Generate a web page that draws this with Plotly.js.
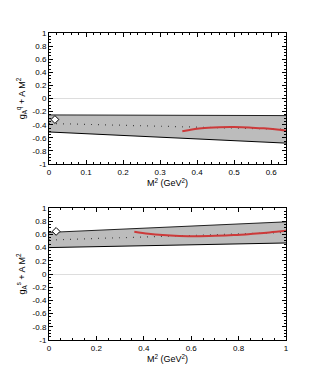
<!DOCTYPE html>
<html><head><meta charset="utf-8">
<script src="https://cdn.plot.ly/plotly-3.0.1.min.js"></script>
<style>html,body{margin:0;padding:0;background:#fff}#c{width:313px;height:382px}</style>
</head><body><div id="c"></div>
<script>
// Top panel data
const topBandX = [0, 0.64];
const topUpper = [-0.25, -0.26];
const topLower = [-0.51, -0.68];
const topCentral = [-0.38, -0.47];
const topFitX = [0.36, 0.38, 0.40, 0.43, 0.46, 0.50, 0.54, 0.58, 0.61, 0.64];
const topFitY = [-0.50, -0.48, -0.46, -0.445, -0.437, -0.435, -0.44, -0.455, -0.47, -0.49];
const topPointX = [0.016];
const topPointY = [-0.32];

// Bottom panel data
const botBandX = [0, 1];
const botUpper = [0.63, 0.79];
const botLower = [0.40, 0.47];
const botCentral = [0.515, 0.63];
const botFitX = [0.36, 0.42, 0.48, 0.55, 0.62, 0.70, 0.78, 0.86, 0.93, 1.0];
const botFitY = [0.64, 0.61, 0.59, 0.577, 0.572, 0.578, 0.59, 0.61, 0.63, 0.655];
const botPointX = [0.03];
const botPointY = [0.645];

const yTicks = [-1,-0.8,-0.6,-0.4,-0.2,0,0.2,0.4,0.6,0.8,1];
const yTickText = ['-1','-0.8','-0.6','-0.4','-0.2','0','0.2','0.4','0.6','0.8','1'];

const fillCol = '#bcbcbc';
const redCol = '#cc3a3a';

function panel(xa, ya, bx, up, lo, ce, fx, fy, px, py) {
  return [
    {x: bx, y: lo, xaxis: xa, yaxis: ya, mode: 'lines', line: {color: '#000', width: 1}, hoverinfo: 'skip'},
    {x: bx, y: up, xaxis: xa, yaxis: ya, mode: 'lines', fill: 'tonexty', fillcolor: fillCol, line: {color: '#222', width: 1}, hoverinfo: 'skip'},
    {x: bx, y: ce, xaxis: xa, yaxis: ya, mode: 'lines', line: {color: '#444', width: 1.2, dash: '1px,6px'}},
    {x: fx, y: fy, xaxis: xa, yaxis: ya, mode: 'lines', line: {color: redCol, width: 2, shape: 'spline'}},
    {x: px, y: py, xaxis: xa, yaxis: ya, mode: 'markers', marker: {symbol: 'diamond', size: 6, color: '#fff', line: {color: '#000', width: 1}}}
  ];
}

const data = [].concat(
  panel('x', 'y', topBandX, topUpper, topLower, topCentral, topFitX, topFitY, topPointX, topPointY),
  panel('x2', 'y2', botBandX, botUpper, botLower, botCentral, botFitX, botFitY, botPointX, botPointY)
);

const font = {family: 'Liberation Sans, Arial, sans-serif', size: 8, color: '#000'};
const titleFont = {family: 'Liberation Sans, Arial, sans-serif', size: 9, color: '#000'};
const axBase = {
  showline: true, linecolor: '#000', linewidth: 1, mirror: 'allticks',
  ticks: 'inside', ticklen: 4, tickwidth: 1, tickcolor: '#000',
  showgrid: false, zeroline: false, tickfont: font
};

const layout = {
  width: 313, height: 382,
  margin: {l: 49, r: 27, t: 33, b: 42},
  paper_bgcolor: '#fff', plot_bgcolor: '#fff',
  showlegend: false, font: font,
  xaxis: Object.assign({}, axBase, {
    domain: [0, 1], anchor: 'y', range: [0, 0.64], dtick: 0.1, tick0: 0,
    minor: {dtick: 0.02, ticks: 'inside', ticklen: 2, tickcolor: '#000'},
    title: {text: 'M<sup>2</sup> (GeV<sup>2</sup>)', font: titleFont, standoff: 2}
  }),
  yaxis: Object.assign({}, axBase, {
    domain: [0.573, 1], anchor: 'x', range: [-1, 1],
    tickvals: yTicks, ticktext: yTickText,
    minor: {dtick: 0.05, ticks: 'inside', ticklen: 2, tickcolor: '#000'},
    zeroline: true, zerolinecolor: '#dddddd', zerolinewidth: 1,
    title: {text: 'g<sub>A</sub><sup>q</sup> + A M<sup>2</sup>', font: titleFont, standoff: 5}
  }),
  xaxis2: Object.assign({}, axBase, {
    domain: [0, 1], anchor: 'y2', range: [0, 1], dtick: 0.2, tick0: 0,
    minor: {dtick: 0.05, ticks: 'inside', ticklen: 2, tickcolor: '#000'},
    title: {text: 'M<sup>2</sup> (GeV<sup>2</sup>)', font: titleFont, standoff: 2}
  }),
  yaxis2: Object.assign({}, axBase, {
    domain: [0, 0.43], anchor: 'x2', range: [-1, 1],
    tickvals: yTicks, ticktext: yTickText,
    minor: {dtick: 0.05, ticks: 'inside', ticklen: 2, tickcolor: '#000'},
    zeroline: true, zerolinecolor: '#dddddd', zerolinewidth: 1,
    title: {text: 'g<sub>A</sub><sup>s</sup> + A M<sup>2</sup>', font: titleFont, standoff: 5}
  })
};

Plotly.newPlot('c', data, layout, {staticPlot: true, displayModeBar: false});
</script>
</body></html>
